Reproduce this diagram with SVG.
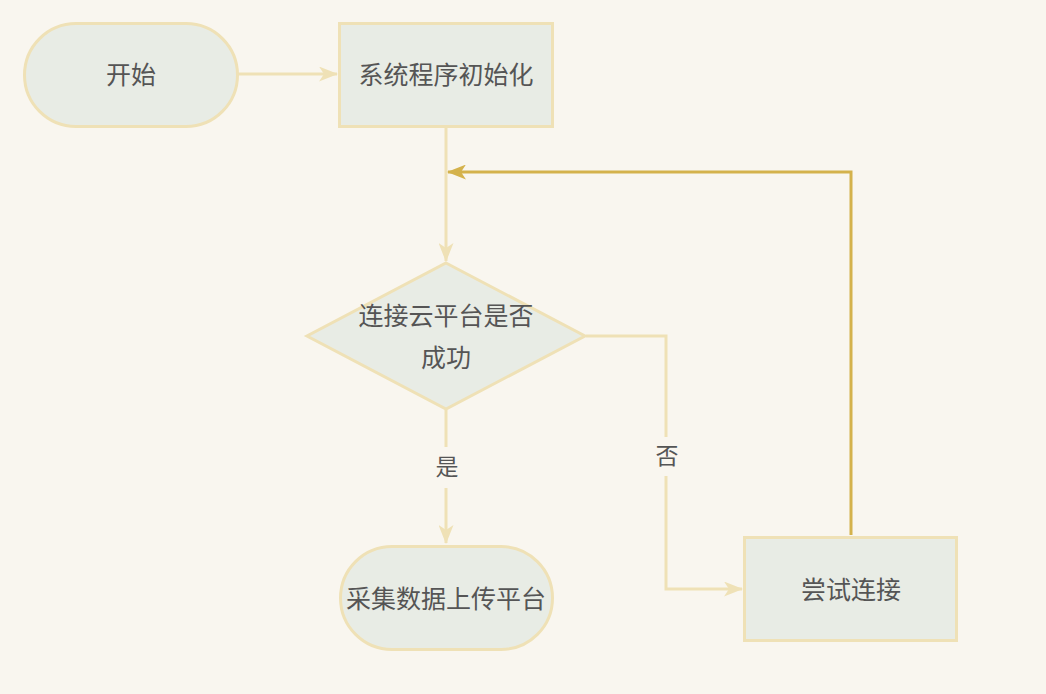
<svg xmlns="http://www.w3.org/2000/svg" width="1046" height="694" viewBox="0 0 1046 694">
<defs>
<style>
.node{fill:#e8ece5;stroke:#efe1b6;stroke-width:3}
.t{font-family:"Liberation Sans","Noto Sans CJK SC",sans-serif;font-size:25px;fill:#555555;text-anchor:middle;dominant-baseline:central}
.lbl{font-family:"Liberation Sans","Noto Sans CJK SC",sans-serif;font-size:23px;fill:#555555;text-anchor:middle;dominant-baseline:central}
.e{fill:none;stroke:#efe1b6;stroke-width:3}
.e2{fill:none;stroke:#d4b24c;stroke-width:3}
</style>
<marker id="a" viewBox="0 0 19 15" refX="18" refY="7.5" markerWidth="19" markerHeight="15" markerUnits="userSpaceOnUse" orient="auto"><path d="M0,0 L19,7.5 L0,15 L5,7.5 Z" fill="#efe1b6"/></marker>
<marker id="a2" viewBox="0 0 19 15" refX="18" refY="7.5" markerWidth="19" markerHeight="15" markerUnits="userSpaceOnUse" orient="auto"><path d="M0,0 L19,7.5 L0,15 L5,7.5 Z" fill="#d4b24c"/></marker>
</defs>
<rect width="1046" height="694" fill="#f9f6ef"/>
<g id="connectors">
<path class="e" d="M238,74 H337" marker-end="url(#a)"/>
<path class="e" d="M446,127 V261" marker-end="url(#a)"/>
<path class="e" d="M446,410 V447 M446,488 V543" marker-end="url(#a)"/>
<path class="e" d="M586,336 H666 V437 M666,476 V589 H742" marker-end="url(#a)"/>
<path class="e2" d="M851,535 V172 H448" marker-end="url(#a2)"/>
<text class="lbl" x="447" y="467">是</text>
<text class="lbl" x="667" y="456">否</text>
</g>
<g id="start"><rect class="node" x="24.5" y="23.5" width="213" height="103" rx="51.5"/><text class="t" x="131" y="75">开始</text></g>
<g id="init"><rect class="node" x="339.5" y="23.5" width="213" height="103"/><text class="t" x="446" y="75">系统程序初始化</text></g>
<g id="check"><polygon class="node" points="446,263 585,336 446,409 307,336"/><text class="t" x="446" y="316">连接云平台是否</text><text class="t" x="446" y="358">成功</text></g>
<g id="upload"><rect class="node" x="340.5" y="546.5" width="212" height="103" rx="51.5"/><text class="t" x="446" y="599">采集数据上传平台</text></g>
<g id="retry"><rect class="node" x="744.5" y="537.5" width="212" height="103"/><text class="t" x="851" y="590">尝试连接</text></g>
</svg>
